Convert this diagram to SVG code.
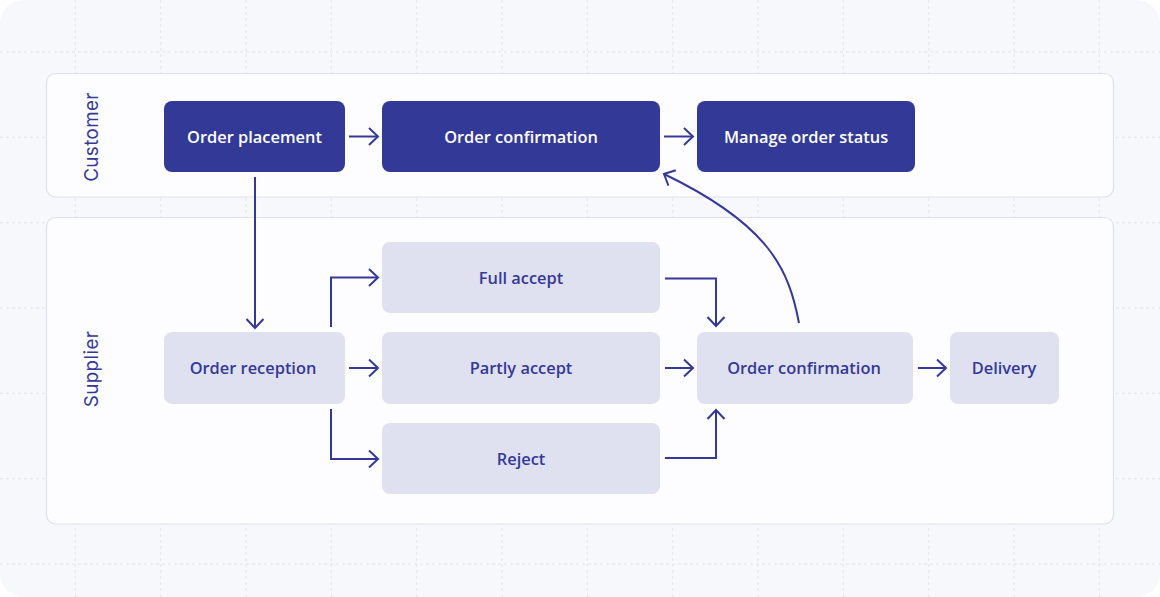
<svg xmlns="http://www.w3.org/2000/svg" width="1160" height="597" viewBox="0 0 1160 597">
<defs>
<style>
.grid{stroke:#e2e4ef;stroke-width:1;stroke-dasharray:3 3;fill:none}
.lane{fill:#fdfdff;stroke:#e0e1ef;stroke-width:1.2}
.lanelbl{font-family:Inter,"Liberation Sans",sans-serif;font-size:18.8px;fill:#343997;text-anchor:middle;letter-spacing:0.4px}
.dark rect{fill:#333996}
.dark text{fill:#ffffff}
.light rect{fill:#e0e1f0}
.light text{fill:#343997}
.node text{font-family:"Open Sans","Noto Sans",sans-serif;font-weight:600;font-size:16.4px;text-anchor:middle;dominant-baseline:central}
.conn path{fill:none;stroke:#343997;stroke-width:2;marker-end:url(#arr)}
</style>
<marker id="arr" markerUnits="userSpaceOnUse" markerWidth="24" markerHeight="24" viewBox="-12 -12 24 24" refX="0" refY="0" orient="auto">
<path d="M-9,-8.5 L0,0 L-9,8.5" fill="none" stroke="#343997" stroke-width="2"/>
</marker>
<clipPath id="bgclip"><rect x="0" y="0" width="1160" height="597" rx="24"/></clipPath>
</defs>
<rect x="0" y="0" width="1160" height="597" fill="#ffffff"/>
<g clip-path="url(#bgclip)">
<rect x="0" y="0" width="1160" height="597" fill="#f7f8fc"/>
<g class="grid">
<path d="M75.3,0V597M160.7,0V597M246,0V597M331.3,0V597M416.7,0V597M502,0V597M587.3,0V597M672.7,0V597M758,0V597M843.3,0V597M928.7,0V597M1014,0V597M1099.3,0V597"/>
<path d="M0,52H1160M0,137.3H1160M0,222.7H1160M0,308H1160M0,393.3H1160M0,478.7H1160M0,564H1160"/>
</g>
</g>
<g id="lane-customer">
<rect class="lane" x="46.5" y="73.5" width="1067" height="123.5" rx="9"/>
<text class="lanelbl" transform="translate(98,137) rotate(-90)">Customer</text>
</g>
<g id="lane-supplier">
<rect class="lane" x="46.5" y="217.5" width="1067" height="306.5" rx="9"/>
<text class="lanelbl" transform="translate(98,369) rotate(-90)">Supplier</text>
</g>
<g id="n-order-placement" class="node dark"><rect x="164" y="101" width="181" height="71" rx="8"/><text x="254.5" y="136">Order placement</text></g>
<g id="n-order-confirmation-c" class="node dark"><rect x="382" y="101" width="278" height="71" rx="8"/><text x="521" y="136">Order confirmation</text></g>
<g id="n-manage-order-status" class="node dark"><rect x="697" y="101" width="218" height="71" rx="8"/><text x="806" y="136">Manage order status</text></g>
<g id="n-order-reception" class="node light"><rect x="164" y="332" width="181" height="72" rx="8"/><text x="253" y="367.5">Order reception</text></g>
<g id="n-full-accept" class="node light"><rect x="382" y="242" width="278" height="71" rx="8"/><text x="521" y="277">Full accept</text></g>
<g id="n-partly-accept" class="node light"><rect x="382" y="332" width="278" height="72" rx="8"/><text x="521" y="367.5">Partly accept</text></g>
<g id="n-reject" class="node light"><rect x="382" y="423" width="278" height="71" rx="8"/><text x="521" y="458">Reject</text></g>
<g id="n-order-confirmation-s" class="node light"><rect x="697" y="332" width="216" height="72" rx="8"/><text x="804" y="367.5">Order confirmation</text></g>
<g id="n-delivery" class="node light"><rect x="950" y="332" width="109" height="72" rx="8"/><text x="1004" y="367.5">Delivery</text></g>
<g id="connectors" class="conn">
<path d="M349,136.5H378"/>
<path d="M664,136.5H693"/>
<path d="M255,177V328"/>
<path d="M331,327V277.5H378"/>
<path d="M349,368H378"/>
<path d="M331,409V459H378"/>
<path d="M665,278.5H716V326"/>
<path d="M665,368H693"/>
<path d="M665,458H716V410"/>
<path d="M918,368H946"/>
<path d="M799,323 C789,270 770,225 664,174"/>
</g>
</svg>
